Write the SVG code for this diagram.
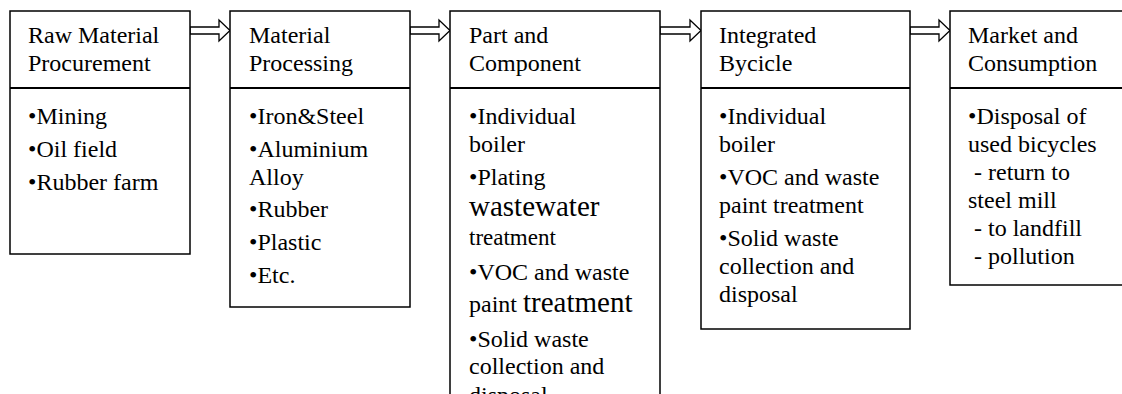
<svg xmlns="http://www.w3.org/2000/svg" width="1122" height="394" viewBox="0 0 1122 394">
<style>
text{font-family:"Liberation Serif","Times New Roman",serif;font-size:24px;fill:#000;white-space:pre}
.box{fill:#fff;stroke:#000;stroke-width:1.5}
.div{stroke:#000;stroke-width:2}
.arr{fill:#fff;stroke:#000;stroke-width:1.3;stroke-linejoin:miter}
.big{font-size:29px}
.mid{font-size:23px}
</style>
<rect width="1122" height="394" fill="#fff"/>
<g id="connectors">
<polygon class="arr" points="190,27 219,27 219,20 230,30.5 219,41 219,34 190,34"/>
<polygon class="arr" points="410,27 439,27 439,20 450,30.5 439,41 439,34 410,34"/>
<polygon class="arr" points="660,27 690,27 690,20 701,30.5 690,41 690,34 660,34"/>
<polygon class="arr" points="910,27 939,27 939,20 950,30.5 939,41 939,34 910,34"/>
</g>
<g id="node1">
<rect class="box" x="10" y="11" width="180" height="243"/>
<line class="div" x1="10" y1="88" x2="190" y2="88"/>
<text x="28" y="43">Raw Material</text>
<text x="28" y="71">Procurement</text>
<text x="28" y="124">•Mining</text>
<text x="28" y="157">•Oil field</text>
<text x="28" y="190">•Rubber farm</text>
</g>
<g id="node2">
<rect class="box" x="230" y="11" width="180" height="296"/>
<line class="div" x1="230" y1="88" x2="410" y2="88"/>
<text x="249" y="43">Material</text>
<text x="249" y="71">Processing</text>
<text x="249" y="124">•Iron&amp;Steel</text>
<text x="249" y="157">•Aluminium</text>
<text x="249" y="185">Alloy</text>
<text x="249" y="217">•Rubber</text>
<text x="249" y="250">•Plastic</text>
<text x="249" y="283">•Etc.</text>
</g>
<g id="node3">
<rect class="box" x="450" y="11" width="210" height="420"/>
<line class="div" x1="450" y1="88" x2="660" y2="88"/>
<text x="469" y="43">Part and</text>
<text x="469" y="71">Component</text>
<text x="469" y="124">•Individual</text>
<text x="469" y="152">boiler</text>
<text x="469" y="185">•Plating</text>
<text x="469" y="216" class="big">wastewater</text>
<text x="469" y="245" class="mid">treatment</text>
<text x="469" y="280">•VOC and waste</text>
<text x="469" y="312">paint <tspan class="big">treatment</tspan></text>
<text x="469" y="347">•Solid waste</text>
<text x="469" y="374">collection and</text>
<text x="469" y="403">disposal</text>
</g>
<g id="node4">
<rect class="box" x="701" y="11" width="209" height="318"/>
<line class="div" x1="701" y1="88" x2="910" y2="88"/>
<text x="719" y="43">Integrated</text>
<text x="719" y="71">Bycicle</text>
<text x="719" y="124">•Individual</text>
<text x="719" y="152">boiler</text>
<text x="719" y="185">•VOC and waste</text>
<text x="719" y="213">paint treatment</text>
<text x="719" y="246">•Solid waste</text>
<text x="719" y="274">collection and</text>
<text x="719" y="302">disposal</text>
</g>
<g id="node5">
<rect class="box" x="950" y="11" width="200" height="274"/>
<line class="div" x1="950" y1="88" x2="1150" y2="88"/>
<text x="968" y="43">Market and</text>
<text x="968" y="71">Consumption</text>
<text x="968" y="124">•Disposal of</text>
<text x="968" y="152">used bicycles</text>
<text x="968" y="180"> - return to</text>
<text x="968" y="208">steel mill</text>
<text x="968" y="236"> - to landfill</text>
<text x="968" y="264"> - pollution</text>
</g>
</svg>
